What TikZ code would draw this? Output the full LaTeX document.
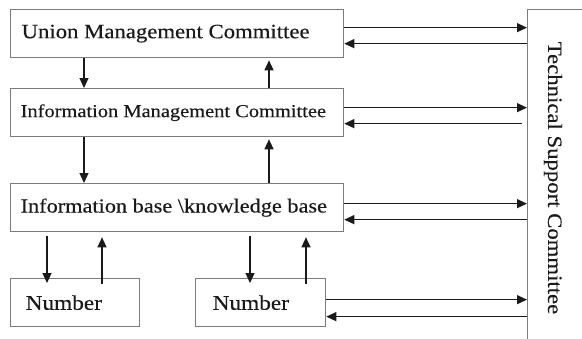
\documentclass[tikz,border=0pt]{standalone}
\usepackage{fontspec}
\setmainfont{Liberation Serif}
\newfontfamily\boxfont{Liberation Serif}[FakeStretch=1.12,WordSpace=0.45,FakeBold=0.3]
\newfontfamily\sidefont{Liberation Serif}[FakeStretch=1.12,FakeBold=0.3]
\usetikzlibrary{arrows.meta,calc}
\definecolor{boxgray}{HTML}{7C7C7C}
\definecolor{ink}{HTML}{1A1A1A}
\begin{document}
\begin{tikzpicture}[x=1pt,y=-1pt,
  box/.style={draw=boxgray, line width=1.3pt, rectangle, anchor=north west,
    inner ysep=0pt, minimum height=48pt, text=ink},
  arr/.style={draw=ink, line width=1.2pt, -{Triangle[length=10pt,width=9pt]}}]
\useasboundingbox (0,0) rectangle (582,338);
\fill[white] (0,0) rectangle (582,338);
\clip (0,0) rectangle (582,338);

% committee boxes
\node[box, inner xsep=11pt, font=\boxfont\fontsize{20.3}{20}\selectfont] (umc) at (10,9)
  {\makebox[311pt][l]{Union Management Committee}};
\node[box, inner xsep=10pt, font=\boxfont\fontsize{18.25}{20}\selectfont] (imc) at (10,88)
  {\makebox[313pt][l]{Information Management Committee}};
\node[box, inner xsep=10pt, font=\sidefont\fontsize{19.9}{20}\selectfont] (ib) at (10,183)
  {\makebox[313pt][l]{Information base \textbackslash knowledge base}};
\node[box, inner xsep=15pt, font=\boxfont\fontsize{20.8}{20}\selectfont] (num1) at (10,278)
  {\makebox[99pt][l]{Number}};
\node[box, inner xsep=17pt, font=\boxfont\fontsize{20.8}{20}\selectfont] (num2) at (195,278)
  {\makebox[96pt][l]{Number}};

% technical support committee, running off the right and bottom edges
\node[draw=boxgray, line width=1.3pt, anchor=north west, minimum width=80pt,
  minimum height=345pt, inner sep=0pt] (tech) at (527,9) {};
\node[rotate=-90, text=ink, font=\sidefont\fontsize{20.3}{20}\selectfont] (techlabel) at (553,178)
  {Technical Support Committee};

% vertical links
\coordinate (a1) at ([xshift=74pt]umc.south west);
\coordinate (a2) at ([xshift=259pt]umc.south west);
\draw[arr] (a1) -- (a1 |- imc.north);
\draw[arr, shorten >=2pt] (a2 |- imc.north) -- (a2);
\draw[arr] (a1 |- imc.south) -- (a1 |- ib.north);
\draw[arr, shorten >=2pt] (a2 |- ib.north) -- (a2 |- imc.south);

\coordinate (b1) at ([xshift=37pt]num1.north west);
\coordinate (b2) at ([xshift=92pt]num1.north west);
\coordinate (c1) at ([xshift=55pt]num2.north west);
\coordinate (c2) at ([xshift=111pt]num2.north west);
\draw[arr, shorten <=4pt, shorten >=-5pt] (b1 |- ib.south) -- (b1);
\draw[arr, shorten <=-6pt, shorten >=5pt] (b2) -- (b2 |- ib.south);
\draw[arr, shorten <=4pt, shorten >=-5pt] (c1 |- ib.south) -- (c1);
\draw[arr, shorten <=-6pt, shorten >=5pt] (c2) -- (c2 |- ib.south);

% links to the technical support committee
\draw[arr] ([yshift=6pt]umc.east) -- ([yshift=6pt]umc.east -| tech.west);
\draw[arr] ([yshift=-10pt]umc.east -| tech.west) -- ([yshift=-10pt]umc.east);
\draw[arr] ([yshift=5pt]imc.east) -- ([yshift=5pt]imc.east -| tech.west);
\draw[arr, shorten <=5pt] ([yshift=-11pt]imc.east -| tech.west) -- ([yshift=-11pt]imc.east);
\draw[arr] ([yshift=4pt]ib.east) -- ([yshift=4pt]ib.east -| tech.west);
\draw[arr] ([yshift=-12pt]ib.east -| tech.west) -- ([yshift=-12pt]ib.east);
\draw[arr] ([yshift=3pt]num2.east) -- ([yshift=3pt]num2.east -| tech.west);
\draw[arr] ([yshift=-14pt]num2.east -| tech.west) -- ([yshift=-14pt]num2.east);
\end{tikzpicture}
\end{document}
